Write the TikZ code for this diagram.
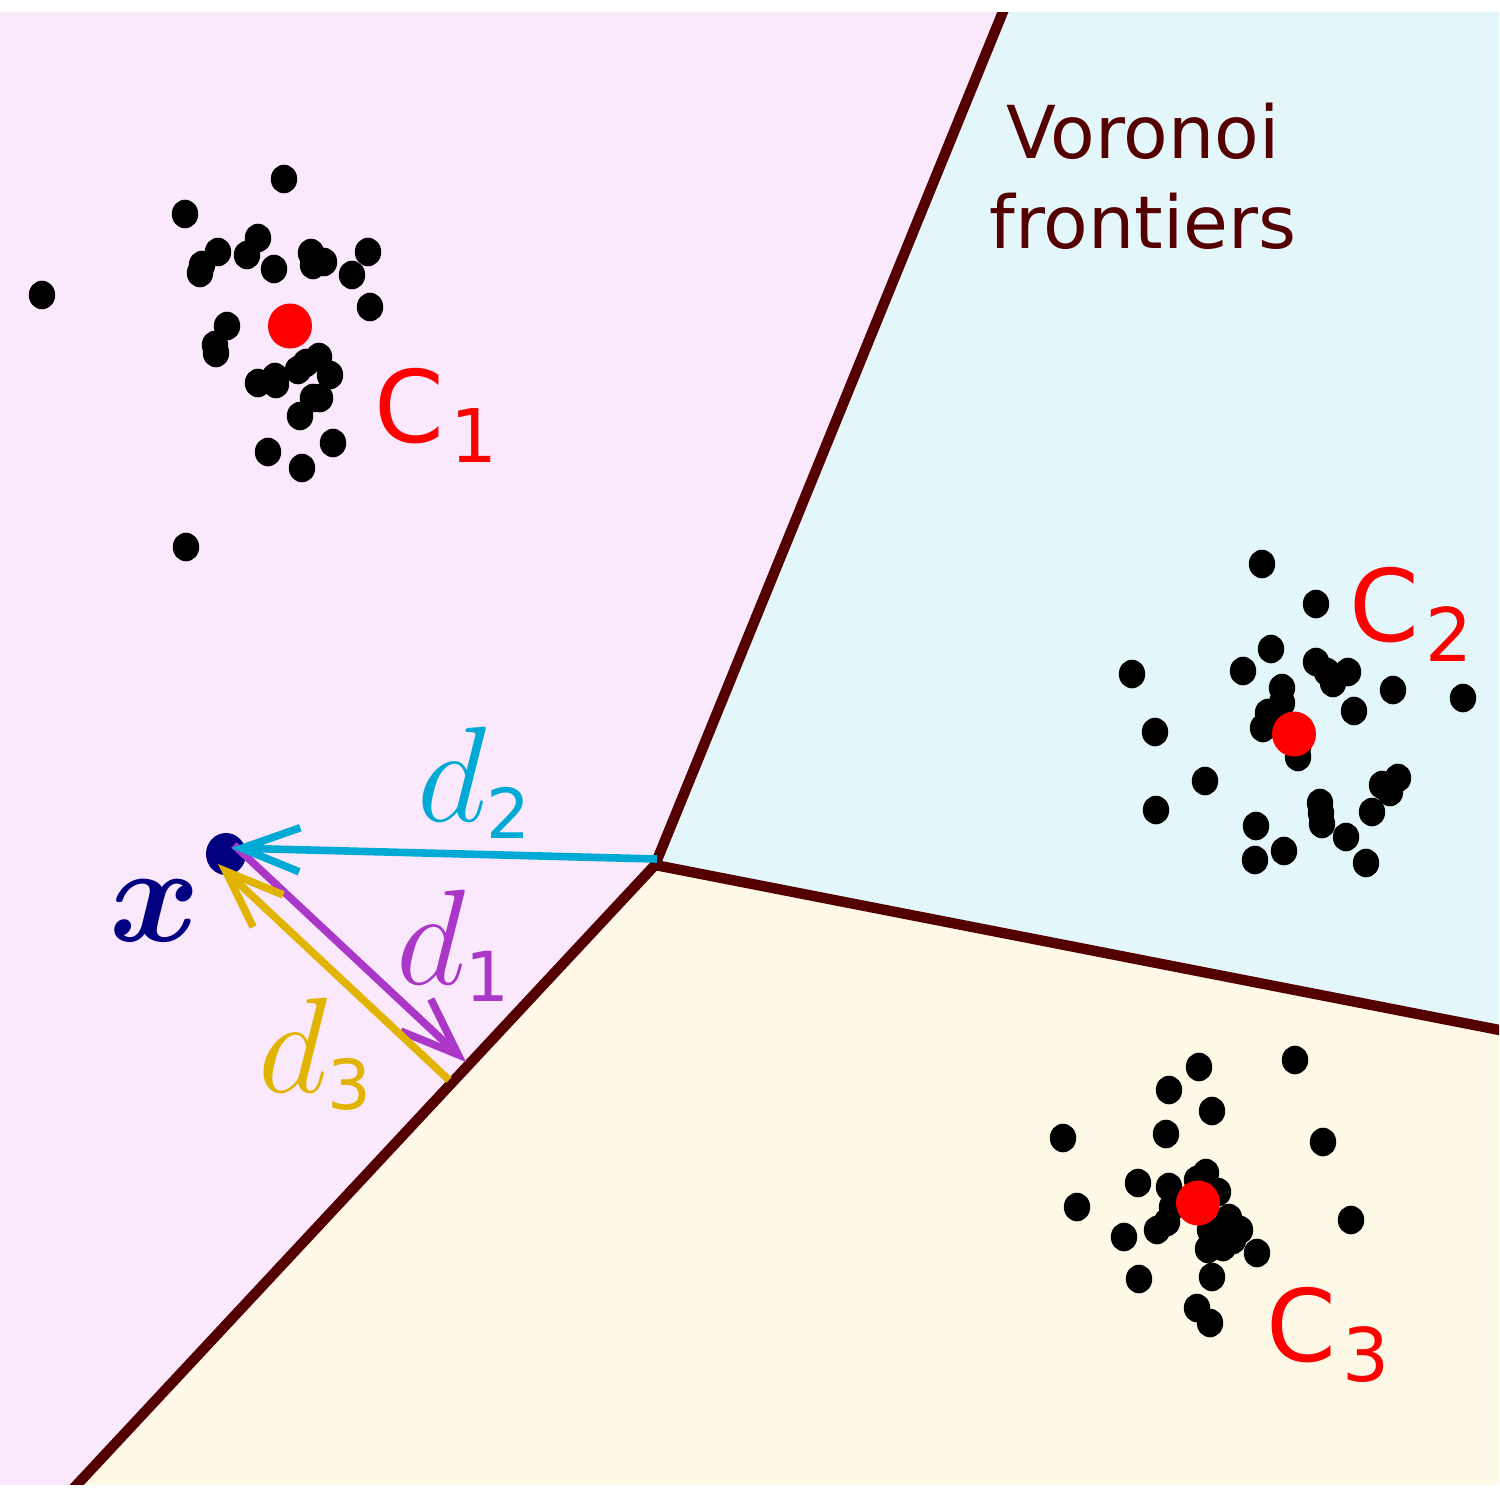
\RequirePackage{fix-cm}
\documentclass[tikz,border=0pt]{standalone}
\usepackage{amsmath,bm}
\usepackage{fontspec}
\setmainfont{DejaVu Sans}
\usetikzlibrary{arrows.meta,shapes.geometric}
\definecolor{pinkbg}{RGB}{250,232,252}
\definecolor{cyanbg}{RGB}{227,246,250}
\definecolor{yellowbg}{RGB}{254,248,230}
\definecolor{frontier}{RGB}{85,0,0}
\definecolor{dcyan}{RGB}{0,170,212}
\definecolor{dpurple}{RGB}{171,55,200}
\definecolor{dyellow}{RGB}{224,180,0}
\definecolor{xnavy}{RGB}{0,0,128}
\tikzset{
  frontierline/.style={draw=frontier, line width=5.2pt},
  blackdot/.style={fill=black},
  centroid/.style={fill=red},
  distarrow/.style={line width=3.8pt, -{Straight Barb[length=29pt,width=22pt,sharp]}},
  clabel/.style={anchor=base west, inner sep=0pt, text=red, font=\fontsize{50}{60}\selectfont},
  dlabel/.style={anchor=base west, inner sep=0pt, font=\fontsize{68}{80}\selectfont},
  xdot/.style={ellipse, fill=xnavy, inner sep=0pt, minimum width=20pt, minimum height=21pt},
}
\newcommand{\subdig}[1]{\raisebox{-8.5pt}{\fontsize{34.5}{40}\selectfont #1}}
\newcommand{\csub}[1]{\kern3pt\raisebox{-10pt}{\fontsize{37}{40}\selectfont #1}}
\begin{document}
\begin{tikzpicture}[x=0.5pt,y=-0.5pt]
\useasboundingbox (0,0) rectangle (1499,1499);
\fill[white] (0,0) rectangle (1499,1499);
\coordinate (V) at (655,865);
\coordinate (Ttop) at (1011,-8);
\coordinate (Tright) at (1520,1034);
\coordinate (Tbot) at (58,1505);
\begin{scope}
  \clip (0,12) rectangle (1499,1484);
  \fill[pinkbg] (-20,-20) -- (Ttop) -- (V) -- (Tbot) -- (-20,1520) -- cycle;
  \fill[cyanbg] (Ttop) -- (1530,-20) -- (1530,1034) -- (Tright) -- (V) -- cycle;
  \fill[yellowbg] (V) -- (Tright) -- (1530,1034) -- (1530,1520) -- (-20,1520) -- (Tbot) -- cycle;
  \draw[frontierline, line join=miter] (Ttop) -- (V) -- (Tbot);
  \draw[frontierline, line cap=round] (V) -- (Tright);
\end{scope}
% cluster 1
\foreach \p in {(284,179),(185,214),(258,238),(218,252),(247,255),(202,265),(200,273),(274,269),(311,253),(313,265),(324,262),(352,275),(368,252),(370,307),(42,295),(227,326),(215,345),(216,353),(258,383),(275,377),(276,384),(298,370),(306,363),(319,357),(330,375),(320,398),(313,398),(300,416),(268,452),(333,443),(302,468),(186,547)}
  \fill[blackdot] \p ellipse [x radius=6.6pt, y radius=7.15pt];
% cluster 2
\foreach \p in {(1262,564),(1316,604),(1271,649),(1243,671),(1132,674),(1316,662),(1327,672),(1333,683),(1348,672),(1393,690),(1463,698),(1354,711),(1282,688),(1282,703),(1268,713),(1263,728),(1298,757),(1298,747),(1155,732),(1205,781),(1156,810),(1256,826),(1255,860),(1284,851),(1320,803),(1321,813),(1322,824),(1346,837),(1366,863),(1372,812),(1382,785),(1398,778),(1390,792)}
  \fill[blackdot] \p ellipse [x radius=6.6pt, y radius=7.15pt];
% cluster 3
\foreach \p in {(1199,1067),(1295,1060),(1169,1090),(1212,1111),(1063,1138),(1166,1134),(1323,1142),(1138,1183),(1077,1207),(1169,1187),(1206,1173),(1197,1180),(1218,1192),(1172,1207),(1167,1222),(1157,1230),(1124,1237),(1229,1218),(1240,1230),(1233,1240),(1223,1247),(1208,1249),(1210,1230),(1257,1253),(1351,1220),(1212,1277),(1139,1279),(1197,1308),(1210,1323)}
  \fill[blackdot] \p ellipse [x radius=6.6pt, y radius=7.15pt];
% centroids
\fill[centroid] (290,326) ellipse [x radius=11pt, y radius=11.25pt];
\fill[centroid] (1294,734) ellipse [x radius=11pt, y radius=11.25pt];
\fill[centroid] (1198,1203) ellipse [x radius=11pt, y radius=11.25pt];
% labels
\node[clabel] (c1) at (374,442) {C\csub{1}};
\node[clabel] (c2) at (1349,641) {C\csub{2}};
\node[clabel] (c3) at (1266,1361) {C\csub{3}};
\node[anchor=north, inner sep=0pt, align=center, text=frontier, font=\fontsize{36.5}{45}\selectfont] (vf) at (1143,103) {Voronoi\\frontiers};
% point x
\node[xdot] (X) at (226,854) {};
\coordinate (S1) at (234,845);
\coordinate (T1) at (466,1062);
\coordinate (S3) at (449,1080);
\coordinate (T3) at (218,864);
\coordinate (S2) at (657,859);
\coordinate (T2) at (231,848);
\draw[distarrow, dpurple] (S1) -- (T1);
\draw[distarrow, dyellow] (S3) -- (T3);
\draw[distarrow, dcyan] (S2) -- (T2);
\node[dlabel, text=dcyan] (d2) at (417,821) {$d$\subdig{2}};
\node[dlabel, text=dpurple] (d1) at (396,984) {$d$\subdig{1}};
\node[dlabel, text=dyellow] (d3) at (258,1092) {$d$\subdig{3}};
\node[anchor=base west, inner sep=0pt, text=xnavy, font=\fontsize{69}{80}\selectfont] (xl) at (109,941) {$\boldsymbol{x}$};
\end{tikzpicture}
\end{document}
